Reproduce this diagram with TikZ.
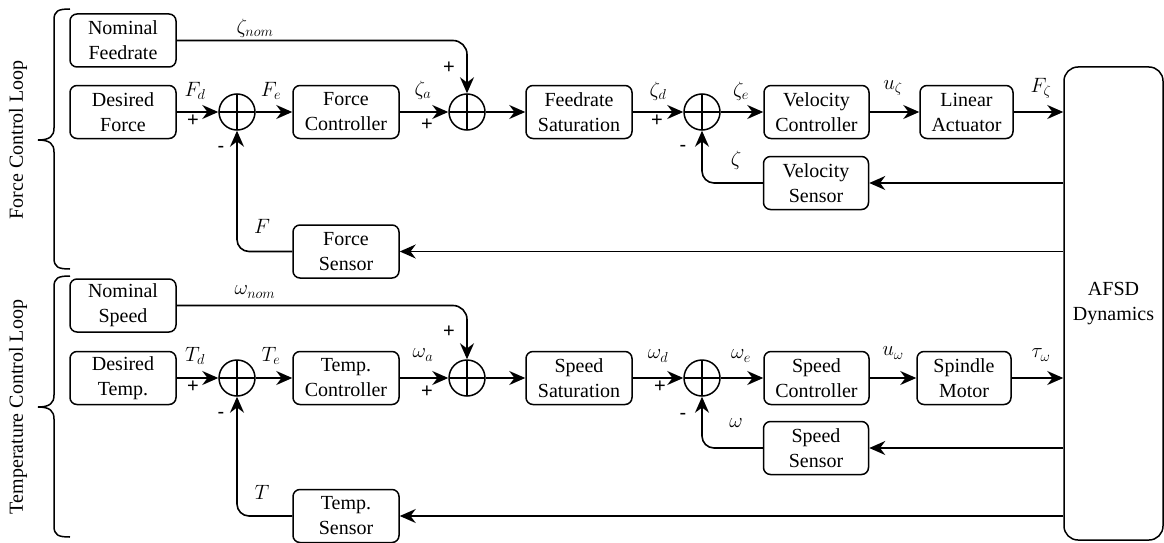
\documentclass[tikz,border=0pt]{standalone}
\usepackage{fontspec}
\setmainfont{Liberation Serif}
\newfontfamily\signfont{Liberation Sans}
\usetikzlibrary{arrows.meta}
\tikzset{
  blk/.style={draw, line width=1.5pt, rounded corners=7pt, align=center,
    inner sep=0pt, minimum width=106pt, minimum height=53pt,
    font=\rmfamily\fontsize{20}{25}\selectfont},
  sumj/.style={draw, circle, line width=1.5pt, minimum size=36pt, inner sep=0pt,
    path picture={\draw[line width=1.5pt]
      (path picture bounding box.north) -- (path picture bounding box.south)
      (path picture bounding box.west) -- (path picture bounding box.east);}},
  arr/.style={line width=1.6pt, -{Stealth[length=16pt,width=14pt]}},
  sig/.style={inner sep=0pt, font=\fontsize{20}{24}\selectfont},
  sgn/.style={inner sep=0pt, font=\signfont\fontsize{20}{24}\selectfont},
  loopbrace/.style={line width=1.5pt},
  looplabel/.style={rotate=90, inner sep=0pt, font=\rmfamily\fontsize{20}{24}\selectfont}
}
\begin{document}
\begin{tikzpicture}[x=1pt, y=-1pt]
\useasboundingbox (0,0) rectangle (1164,543);

% ---------- force control loop ----------
\node[blk] (nomF) at (123,40.5) {Nominal\\Feedrate};
\node[blk] (desF) at (123,112) {Desired\\Force};
\node[sumj] (s1) at (237,112) {};
\node[blk] (fc) at (346,112) {Force\\Controller};
\node[sumj] (s2) at (467,112) {};
\node[blk] (fsat) at (579,112) {Feedrate\\Saturation};
\node[sumj] (s3) at (702,112) {};
\node[blk, minimum width=105pt] (vc) at (816.5,112) {Velocity\\Controller};
\node[blk, minimum width=93pt] (la) at (966.5,112) {Linear\\Actuator};
\node[blk, minimum width=105pt] (vs) at (816,183) {Velocity\\Sensor};
\node[blk] (fs) at (346,251.5) {Force\\Sensor};

% plant block shared by both loops
\node[draw, line width=1.5pt, rounded corners=14pt, minimum width=99pt,
  minimum height=473pt, align=center, inner sep=0pt,
  font=\rmfamily\fontsize{20}{25}\selectfont] (afsd) at (1113.5,303.5) {AFSD\\Dynamics};

\draw[arr, rounded corners=14pt] (nomF.east) -| (s2.north);
\draw[arr] (desF.east) -- (s1.west);
\draw[arr] (s1.east) -- (fc.west);
\draw[arr] (fc.east) -- (s2.west);
\draw[arr] (s2.east) -- (fsat.west);
\draw[arr] (fsat.east) -- (s3.west);
\draw[arr] (s3.east) -- (vc.west);
\draw[arr] (vc.east) -- (la.west);
\draw[arr] (la.east) -- (la.east -| afsd.west);
\draw[arr] (afsd.west |- vs.east) -- (vs.east);
\draw[arr, rounded corners=12pt] (vs.west) -| (s3.south);
\draw[arr] (afsd.west |- fs.east) -- (fs.east);
\draw[arr, rounded corners=12pt] (fs.west) -| (s1.south);

\node[sig] (lznom) at (255,28) {$\zeta_{nom}$};
\node[sig] (lFd) at (195,91) {$F_d$};
\node[sig] (lFe) at (271,91) {$F_e$};
\node[sgn] (p1) at (193,121) {+};
\node[sgn] (m1) at (221,149) {-};
\node[sig] (lF) at (262,226) {$F$};
\node[sig] (lza) at (423,90) {$\zeta_a$};
\node[sgn] (p2a) at (449,68) {+};
\node[sgn] (p2b) at (427,125) {+};
\node[sig] (lzd) at (658,91) {$\zeta_d$};
\node[sgn] (p3) at (657,121) {+};
\node[sig] (lze) at (741,91) {$\zeta_e$};
\node[sgn] (m3) at (683,148) {-};
\node[sig] (lz) at (736,160) {$\zeta$};
\node[sig] (luz) at (893,88) {$u_\zeta$};
\node[sig] (lFz) at (1041,88) {$F_\zeta$};

% ---------- temperature control loop ----------
\node[blk] (nomS) at (123,305.5) {Nominal\\Speed};
\node[blk] (desT) at (123,378) {Desired\\Temp.};
\node[sumj] (s4) at (237,378) {};
\node[blk] (tc) at (346,378) {Temp.\\Controller};
\node[sumj] (s5) at (467,378) {};
\node[blk] (ssat) at (579,378) {Speed\\Saturation};
\node[sumj] (s6) at (702,378) {};
\node[blk, minimum width=105pt] (sc) at (816.5,378) {Speed\\Controller};
\node[blk, minimum width=94pt] (sm) at (964,378) {Spindle\\Motor};
\node[blk, minimum width=105pt] (ss) at (816,448) {Speed\\Sensor};
\node[blk] (ts) at (346,516) {Temp.\\Sensor};

\draw[arr, rounded corners=14pt] (nomS.east) -| (s5.north);
\draw[arr] (desT.east) -- (s4.west);
\draw[arr] (s4.east) -- (tc.west);
\draw[arr] (tc.east) -- (s5.west);
\draw[arr] (s5.east) -- (ssat.west);
\draw[arr] (ssat.east) -- (s6.west);
\draw[arr] (s6.east) -- (sc.west);
\draw[arr] (sc.east) -- (sm.west);
\draw[arr] (sm.east) -- (sm.east -| afsd.west);
\draw[arr] (afsd.west |- ss.east) -- (ss.east);
\draw[arr, rounded corners=12pt] (ss.west) -| (s6.south);
\draw[arr] (afsd.west |- ts.east) -- (ts.east);
\draw[arr, rounded corners=12pt] (ts.west) -| (s4.south);

\node[sig] (lwnom) at (255,292) {$\omega_{nom}$};
\node[sig] (lTd) at (195,356) {$T_d$};
\node[sig] (lTe) at (271,356) {$T_e$};
\node[sgn] (p4) at (193,387) {+};
\node[sgn] (m4) at (221,415) {-};
\node[sig] (lT) at (262,492) {$T$};
\node[sig] (lwa) at (423,355) {$\omega_a$};
\node[sgn] (p5a) at (449,332) {+};
\node[sgn] (p5b) at (427,392) {+};
\node[sig] (lwd) at (658,356) {$\omega_d$};
\node[sgn] (p6) at (660,387) {+};
\node[sig] (lwe) at (741,356) {$\omega_e$};
\node[sgn] (m6) at (683,416) {-};
\node[sig] (lw) at (736,423) {$\omega$};
\node[sig] (luw) at (893,353) {$u_\omega$};
\node[sig] (ltw) at (1041,355) {$\tau_\omega$};

% ---------- loop braces ----------
\draw[loopbrace] (70,9) .. controls (58,9) and (54,11) .. (54,20) -- (54,128)
  .. controls (54,136) and (50,140) .. (38,140)
  .. controls (50,140) and (54,144) .. (54,152) -- (54,258)
  .. controls (54,267) and (58,269) .. (70,269);
\draw[loopbrace] (70,276) .. controls (58,276) and (54,278) .. (54,287) -- (54,395)
  .. controls (54,403) and (50,407) .. (38,407)
  .. controls (50,407) and (54,411) .. (54,419) -- (54,526)
  .. controls (54,535) and (58,537) .. (70,537);
\node[looplabel] (lblF) at (18,140) {Force Control Loop};
\node[looplabel] (lblT) at (18,407) {Temperature Control Loop};
\end{tikzpicture}
\end{document}
